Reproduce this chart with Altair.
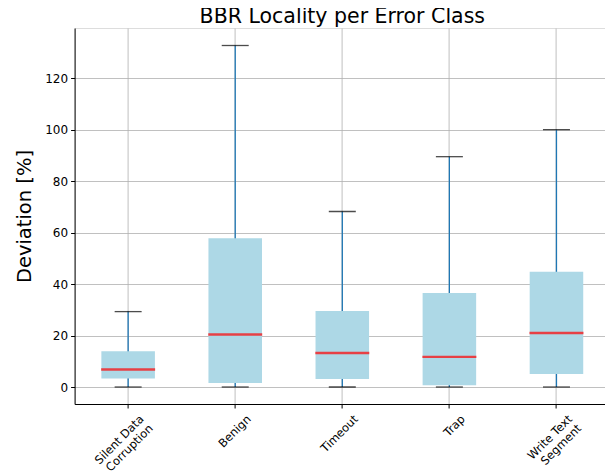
import altair as alt
import pandas as pd

# ---- data ----
categories = ["Silent Data\nCorruption", "Benign", "Timeout", "Trap", "Write Text\nSegment"]
whisker_low = [0.0, 0.0, 0.0, 0.0, 0.0]
q1 = [3.3, 1.6, 3.1, 0.7, 5.1]
median = [6.8, 20.4, 13.2, 11.7, 21.0]
q3 = [13.9, 57.8, 29.5, 36.5, 44.8]
whisker_high = [29.3, 132.7, 68.2, 89.5, 100.0]
y_ticks = [0, 20, 40, 60, 80, 100, 120]
title_text = "BBR Locality per Error Class"

df = pd.DataFrame({
    "cat": categories,
    "low": whisker_low,
    "q1": q1,
    "median": median,
    "q3": q3,
    "high": whisker_high,
})

FONT = "DejaVu Sans"
W, H = 535.4, 376

x_enc = alt.X(
    "cat:N",
    sort=categories,
    scale=alt.Scale(paddingInner=0, paddingOuter=0),
    axis=alt.Axis(
        title=None,
        labelExpr="split(datum.label, '\\n')",
        labelAngle=-45,
        labelAlign="right",
        labelBaseline="top",
        labelOffset=10,
        labelPadding=5,
        labelFontSize=11.5,
        labelLineHeight=13,
        labelFont=FONT,
        labelColor="black",
        tickSize=4,
        tickColor="black",
        domainColor="black",
        grid=True,
        gridColor="#b0b0b0",
        gridWidth=0.8,
    ),
)

y_scale = alt.Scale(domain=[-6.6, 139.5], nice=False, zero=False)
y_axis = alt.Axis(
    title="Deviation [%]",
    titleFontSize=19.5,
    titleFont=FONT,
    titleFontWeight="normal",
    titleColor="black",
    titlePadding=10,
    values=y_ticks,
    labelFontSize=12,
    labelFont=FONT,
    labelColor="black",
    labelPadding=3,
    tickSize=4,
    tickColor="black",
    domainColor="black",
    grid=True,
    gridColor="#b0b0b0",
    gridWidth=0.8,
)

base = alt.Chart(df)

whiskers = base.mark_rule(color="#1f77b4", strokeWidth=1.3).encode(
    x=x_enc,
    y=alt.Y("low:Q", scale=y_scale, axis=y_axis),
    y2="high:Q",
)

boxes = base.mark_bar(color="#add8e6", width=alt.RelativeBandSize(0.5)).encode(
    x=x_enc,
    y=alt.Y("q1:Q", scale=y_scale, axis=y_axis),
    y2="q3:Q",
)

medians = base.mark_tick(color="#ff0000", size=54, thickness=2.4).encode(
    x=x_enc,
    y=alt.Y("median:Q", scale=y_scale, axis=y_axis),
)

caps_high = base.mark_tick(color="black", size=27, thickness=1.3).encode(
    x=x_enc,
    y=alt.Y("high:Q", scale=y_scale, axis=y_axis),
)

caps_low = base.mark_tick(color="black", size=27, thickness=1.3).encode(
    x=x_enc,
    y=alt.Y("low:Q", scale=y_scale, axis=y_axis),
)

title = alt.Chart(pd.DataFrame({"t": [title_text]})).mark_text(
    font=FONT,
    fontSize=20.5,
    color="black",
    align="center",
    baseline="alphabetic",
).encode(
    text="t:N",
    x=alt.value(W / 2),
    y=alt.value(-5.5),
)

chart = (
    alt.layer(whiskers, boxes, medians, caps_high, caps_low, title)
    .properties(
        width=W,
        height=H,
        autosize=alt.AutoSizeParams(type="none"),
        padding={"left": 66.6, "top": 20, "right": -5, "bottom": 68},
    )
    .configure_view(stroke="black", strokeWidth=1)
    .configure(background="white")
)

chart.save("out.html", embed_options={"renderer": "svg", "actions": False})
